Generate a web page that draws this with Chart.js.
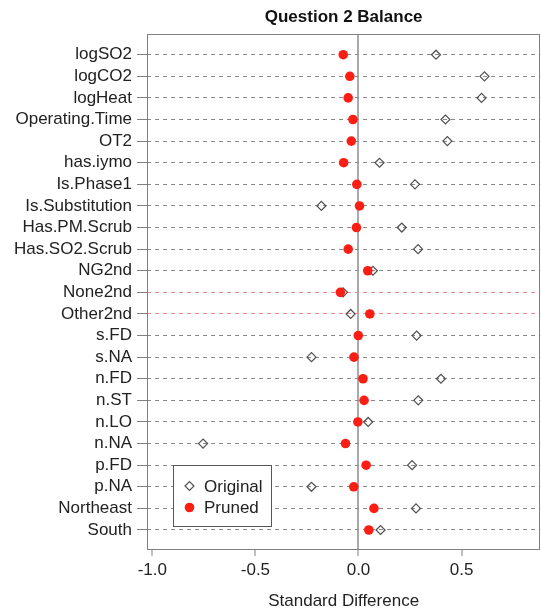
<!DOCTYPE html>
<html>
<head>
<meta charset="utf-8">
<script src="https://cdn.jsdelivr.net/npm/chart.js@4.4.1/dist/chart.umd.min.js"></script>
<style>
  body { margin: 0; background: #fff; }
  #wrap { width: 541px; height: 614px; }
</style>
</head>
<body>
<div id="wrap"><canvas id="balance" width="541" height="614"></canvas></div>
<script>
// ---- data ----
const rowLabels = ["logSO2", "logCO2", "logHeat", "Operating.Time", "OT2", "has.iymo",
  "Is.Phase1", "Is.Substitution", "Has.PM.Scrub", "Has.SO2.Scrub", "NG2nd", "None2nd",
  "Other2nd", "s.FD", "s.NA", "n.FD", "n.ST", "n.LO", "n.NA", "p.FD", "p.NA",
  "Northeast", "South"];
const originalDiff = [0.376, 0.611, 0.597, 0.422, 0.431, 0.102, 0.274, -0.180, 0.210, 0.289,
  0.070, -0.075, -0.038, 0.282, -0.228, 0.400, 0.290, 0.047, -0.754, 0.260, -0.228,
  0.279, 0.107];
const prunedDiff = [-0.074, -0.042, -0.050, -0.027, -0.035, -0.072, -0.008, 0.005, -0.010, -0.050,
  0.045, -0.088, 0.055, -0.001, -0.022, 0.022, 0.027, -0.003, -0.063, 0.037, -0.023,
  0.075, 0.050];
const highlightRows = ["None2nd", "Other2nd"];
const xTickValues = [-1, -0.5, 0, 0.5];
const xTickLabels = ["-1.0", "-0.5", "0.0", "0.5"];
const legendLabels = ["Original", "Pruned"];

const fontFamily = "'Liberation Sans', Arial, Helvetica, sans-serif";
const redCol = "#fc1e14";
const diamondCol = "#505050";

function toPoints(values) {
    return values.map((v, i) => ({x: v, y: i + 1}));
}

function rowLineColor(c) {
    const v = c.tick ? Math.round(c.tick.value) : 0;
    return highlightRows.includes(rowLabels[v - 1]) ? "#ef8a8a" : "#8a8a8a";
}

// ---- box round the plot region + legend inside it ----
const framePlugin = {
    id: "frame",
    afterDraw(chart) {
        const ctx = chart.ctx;
        const a = chart.chartArea;
        ctx.save();
        ctx.strokeStyle = "#808080";
        ctx.lineWidth = 1;
        ctx.strokeRect(Math.round(a.left) + 0.5, Math.round(a.top) + 0.5,
            Math.round(a.right - a.left) - 1, Math.round(a.bottom - a.top));

        // legend
        const lx = Math.round(a.left) + 26, ly = Math.round(a.bottom) - 84;
        const lw = 98, lh = 61;
        ctx.fillStyle = "#fff";
        ctx.fillRect(lx, ly, lw, lh);
        ctx.strokeStyle = "#555";
        ctx.strokeRect(lx + 0.5, ly + 0.5, lw, lh);

        const sx = lx + 16.5, y1 = ly + 21, y2 = ly + 42.5;
        ctx.strokeStyle = diamondCol;
        ctx.lineWidth = 1.2;
        ctx.beginPath();
        ctx.moveTo(sx - 4.5, y1);
        ctx.lineTo(sx, y1 - 4.5);
        ctx.lineTo(sx + 4.5, y1);
        ctx.lineTo(sx, y1 + 4.5);
        ctx.closePath();
        ctx.stroke();
        ctx.fillStyle = redCol;
        ctx.beginPath();
        ctx.arc(sx, y2, 4.8, 0, Math.PI * 2);
        ctx.fill();

        ctx.fillStyle = "#222";
        ctx.font = "17px " + fontFamily;
        ctx.textBaseline = "middle";
        ctx.textAlign = "left";
        ctx.fillText(legendLabels[0], lx + 31, y1 + 1);
        ctx.fillText(legendLabels[1], lx + 31, y2 + 1);
        ctx.restore();
    }
};

const balanceChart = new Chart(document.getElementById("balance"), {
    type: "scatter",
    data: {
        datasets: [{
            label: legendLabels[0],
            data: toPoints(originalDiff),
            pointStyle: "rectRot",
            pointRadius: 4.5,
            pointBorderWidth: 1.2,
            borderColor: diamondCol,
            backgroundColor: "rgba(0,0,0,0)",
            order: 2
        }, {
            label: legendLabels[1],
            data: toPoints(prunedDiff),
            pointStyle: "circle",
            pointRadius: 4.8,
            pointBorderWidth: 0,
            borderColor: redCol,
            backgroundColor: redCol,
            order: 1
        }]
    },
    options: {
        responsive: false,
        animation: false,
        events: [],
        layout: { autoPadding: false, padding: { left: 0, right: 0.7, top: 0, bottom: 0 } },
        plugins: {
            legend: { display: false },
            tooltip: { enabled: false },
            title: {
                display: true,
                text: "Question 2 Balance",
                fullSize: false,
                color: "#111",
                font: { size: 17, weight: "bold", family: fontFamily },
                padding: { top: 7, bottom: 7 }
            }
        },
        scales: {
            x: {
                type: "linear",
                min: -1.026,
                max: 0.882,
                afterBuildTicks: (scale) => {
                    scale.ticks = xTickValues.map(v => ({value: v}));
                },
                afterFit: (scale) => {
                    scale.height = 65;
                    scale.paddingLeft = 0;
                    scale.paddingRight = 0;
                },
                ticks: {
                    color: "#222",
                    padding: 4,
                    font: { size: 17, family: fontFamily },
                    callback: (value) => xTickLabels[xTickValues.indexOf(value)]
                },
                grid: {
                    color: (c) => (c.tick && c.tick.value === 0) ? "#aaaaaa" : "rgba(0,0,0,0)",
                    lineWidth: 2,
                    tickColor: "#808080",
                    tickWidth: 1,
                    tickLength: 7
                },
                border: { display: false },
                title: {
                    display: true,
                    text: "Standard Difference",
                    color: "#222",
                    font: { size: 17, family: fontFamily },
                    padding: { top: 0, bottom: 2 }
                }
            },
            y: {
                type: "linear",
                reverse: true,
                min: 0.06,
                max: 23.88,
                afterBuildTicks: (scale) => {
                    scale.ticks = rowLabels.map((_, i) => ({value: i + 1}));
                },
                afterFit: (scale) => {
                    scale.width = 147;
                    scale.paddingTop = 0;
                    scale.paddingBottom = 0;
                },
                ticks: {
                    autoSkip: false,
                    color: "#222",
                    padding: 5,
                    font: { size: 17, family: fontFamily },
                    callback: (value) => rowLabels[value - 1]
                },
                grid: {
                    color: rowLineColor,
                    lineWidth: 1,
                    tickColor: "#808080",
                    tickWidth: 1,
                    tickLength: 10
                },
                border: { display: false, dash: [4, 4] }
            }
        }
    },
    plugins: [framePlugin]
});
</script>
</body>
</html>
